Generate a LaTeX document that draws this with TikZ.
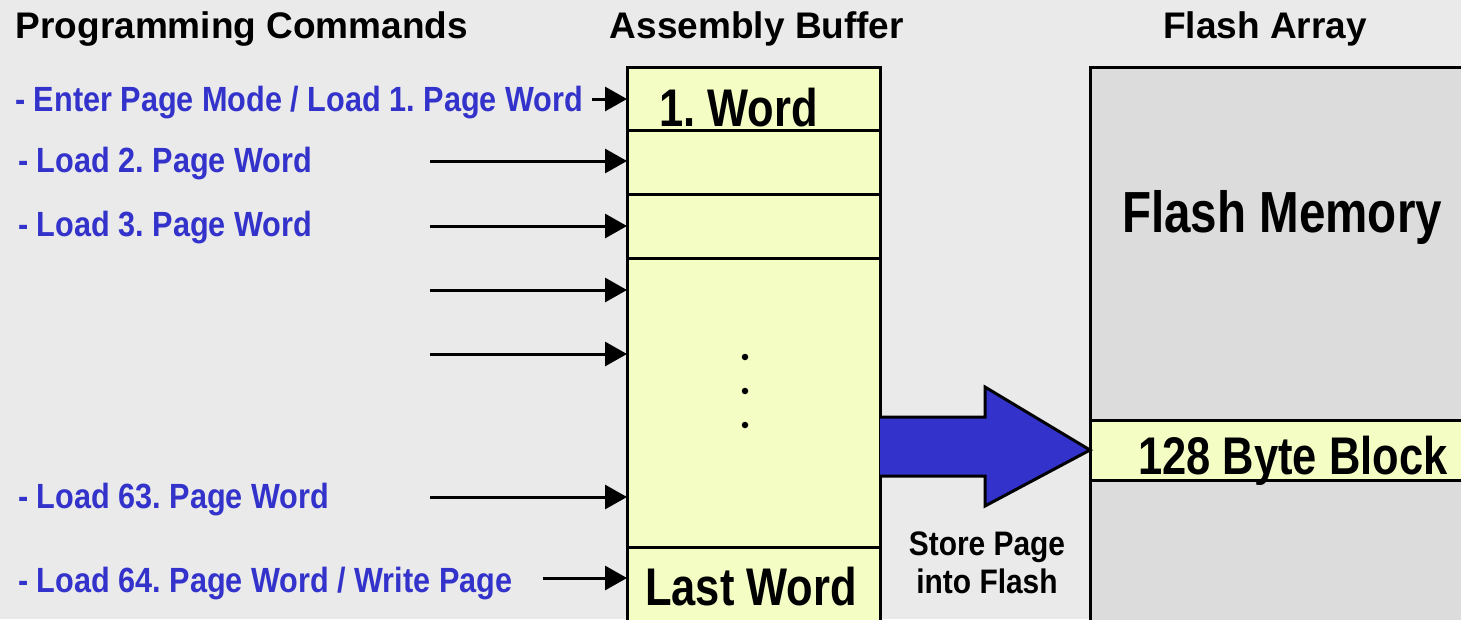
\documentclass[tikz,border=0pt]{standalone}
\usepackage{fontspec}
\setmainfont{Liberation Sans}
\newfontfamily\bluefont[FakeStretch=0.875]{Liberation Sans}
\newfontfamily\bigfont[FakeStretch=0.82]{Liberation Sans}
\newfontfamily\smallfont[FakeStretch=0.88]{Liberation Sans}
\usetikzlibrary{arrows.meta}
\frenchspacing
\definecolor{bg}{HTML}{EAEAEA}
\definecolor{flashgray}{HTML}{DCDCDC}
\definecolor{buf}{HTML}{F4FDC4}
\definecolor{cmdblue}{HTML}{3333CC}
\tikzset{
  cell/.style={draw=black, line width=3pt, fill=buf, rectangle, inner sep=0pt, outer sep=0pt, minimum width=253pt, anchor=north west},
  header/.style={font=\bfseries\fontsize{37}{40}\selectfont, text=black, inner sep=0pt, anchor=base},
  cmd/.style={font=\bluefont\bfseries\fontsize{35}{38}\selectfont, text=cmdblue, inner sep=0pt, anchor=base west},
  biglabel/.style={font=\bigfont\bfseries\fontsize{53}{56}\selectfont, text=black, inner sep=0pt, anchor=base west},
  smalllabel/.style={font=\smallfont\bfseries\fontsize{34}{38}\selectfont, text=black, inner sep=0pt, anchor=base},
  arr/.style={line width=3pt, -{Triangle[length=22pt,width=24pt]}},
  bigarrow/.style={draw=black, line width=3pt, fill=cmdblue, line join=miter},
  dot/.style={circle, fill=black, inner sep=0pt, minimum size=6.5pt},
}
\begin{document}
\begin{tikzpicture}[x=1pt,y=-1pt]
\useasboundingbox (0,0) rectangle (1461,619);
\fill[bg] (0,0) rectangle (1461,619);
\clip (0,0) rectangle (1461,619);

% headers
\node[header] (h1) at (242,38) {Programming Commands};
\node[header] (h2) at (757,38) {Assembly Buffer};
\node[header] (h3) at (1265,38) {Flash Array};

% assembly buffer
\node[cell, minimum height=63pt] (c1) at (627,67) {};
\node[cell, minimum height=64pt] (c2) at (627,130) {};
\node[cell, minimum height=64pt] (c3) at (627,194) {};
\node[cell, minimum height=289pt] (c4) at (627,258) {};
\node[cell, minimum height=110pt] (c5) at (627,547) {};
\node[biglabel] (w1) at (659,126) {1. Word};
\node[biglabel] (wl) at (645,605) {Last Word};
\node[dot] (d1) at (745,357) {};
\node[dot] (d2) at (745,391) {};
\node[dot] (d3) at (745,425) {};

% flash array
\node[draw=black, line width=3pt, fill=flashgray, rectangle, inner sep=0pt, outer sep=0pt,
      minimum width=400pt, minimum height=600pt, anchor=north west] (flash) at (1090,67) {};
\node[draw=black, line width=3pt, fill=buf, rectangle, inner sep=0pt, outer sep=0pt,
      minimum width=400pt, minimum height=60pt, anchor=north west] (block) at (1090,420) {};
\node[font=\bigfont\bfseries\fontsize{58}{60}\selectfont, inner sep=0pt, anchor=base west] (fmem) at (1122,232) {Flash Memory};
\node[biglabel] (bb) at (1138,474) {128 Byte Block};

% store arrow
\coordinate (sa0) at (c4.east |- 0,417);
\coordinate (sa1) at (985,417);
\coordinate (sa2) at (985,387);
\coordinate (tip) at (block.west);
\coordinate (sa3) at (985,506);
\coordinate (sa4) at (985,476);
\coordinate (sa5) at (c4.east |- 0,476);
\draw[bigarrow] (sa0) -- (sa1) -- (sa2) -- (tip) -- (sa3) -- (sa4) -- (sa5);
\node[smalllabel] (store1) at (987,555) {Store Page};
\node[smalllabel] (store2) at (987,593) {into Flash};

% commands
\node[cmd] (t1) at (15,111) {- Enter Page Mode / Load 1. Page Word};
\node[cmd] (t2) at (18,172) {- Load 2. Page Word};
\node[cmd] (t3) at (18,236) {- Load 3. Page Word};
\node[cmd] (t63) at (18,508) {- Load 63. Page Word};
\node[cmd] (t64) at (18,592) {- Load 64. Page Word / Write Page};

\coordinate (s1) at (592,99);
\coordinate (s2) at (430,161);
\coordinate (s3) at (430,226);
\coordinate (s4) at (430,290);
\coordinate (s5) at (430,354);
\coordinate (s6) at (430,497);
\coordinate (s7) at (543,578);
\draw[arr] (s1) -- (s1 -| c1.west);
\draw[arr] (s2) -- (s2 -| c2.west);
\draw[arr] (s3) -- (s3 -| c3.west);
\draw[arr] (s4) -- (s4 -| c4.west);
\draw[arr] (s5) -- (s5 -| c4.west);
\draw[arr] (s6) -- (s6 -| c4.west);
\draw[arr] (s7) -- (s7 -| c5.west);
\end{tikzpicture}
\end{document}
